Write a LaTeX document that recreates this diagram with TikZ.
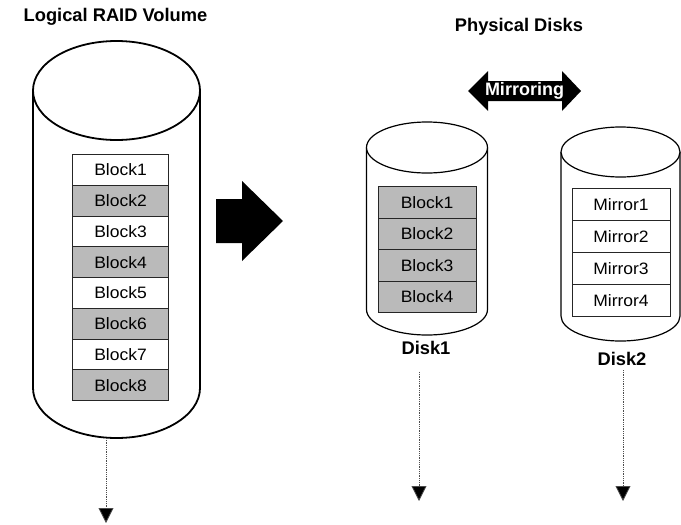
\documentclass[tikz,border=0pt]{standalone}
\usepackage{fontspec}
\setmainfont{Liberation Sans}
\newfontfamily\blkfont{Liberation Sans}[FakeStretch=1.06]
\usetikzlibrary{arrows.meta}
\begin{document}
\begin{tikzpicture}[x=1pt,y=1pt,
  bigcyl/.style={draw=black,fill=white,line width=1.8pt},
  smallcyl/.style={draw=black,fill=white,line width=1.2pt},
  blk/.style={draw=black!85,line width=1pt,inner sep=0pt,anchor=north,font=\blkfont\fontsize{16.5}{18}\selectfont},
  wht/.style={blk,fill=white},
  gry/.style={blk,fill=black!27},
  title/.style={font=\fontsize{18.3}{20}\selectfont\bfseries,inner sep=0pt},
  flow/.style={densely dotted,line width=0.8pt,draw=black!70,-{Triangle[width=15pt,length=15pt,fill=black]}},
  bigarrow/.style={fill=black,draw=none}
]
\useasboundingbox (0,0) rectangle (681,-525);

% titles
\node[title] (t1) at (115.5,-17) {Logical RAID Volume};
\node[title] (t2) at (519,-27) {Physical Disks};

% logical volume cylinder
\draw[bigcyl] (33,-90.5) -- (33,-388) arc[start angle=180,end angle=360,x radius=83.5,y radius=50] -- (200,-90.5);
\draw[bigcyl] (116.5,-90.5) ellipse[x radius=83.5,y radius=49.5];
\foreach \i/\s in {1/wht,2/gry,3/wht,4/gry,5/wht,6/gry,7/wht,8/gry}
  \node[\s,minimum width=96pt,minimum height=30.75pt] (L\i) at (120.5,{-154-30.75*(\i-1)}) {Block\i};

% big right arrow
\fill[bigarrow] (216,-199) -- (242,-199) -- (242,-181) -- (283,-221) -- (242,-261) -- (242,-243) -- (216,-243) -- cycle;

% mirroring arrow
\fill[bigarrow] (468,-91) -- (488,-71) -- (488,-81) -- (562,-81) -- (562,-71) -- (581,-91) -- (562,-111) -- (562,-101) -- (488,-101) -- (488,-111) -- cycle;
\node[font=\fontsize{18}{20}\selectfont\bfseries,text=white,inner sep=0pt] (mir) at (524.5,-91) {Mirroring};

% disk 1
\draw[smallcyl] (366.5,-147.5) -- (366.5,-309.5) arc[start angle=180,end angle=360,x radius=60.5,y radius=25.5] -- (487.5,-147.5);
\draw[smallcyl] (427,-147.5) ellipse[x radius=60.5,y radius=25.5];
\foreach \i in {1,...,4}
  \node[gry,minimum width=98pt,minimum height=31.5pt] (D\i) at (427,{-186-31.5*(\i-1)}) {Block\i};
\node[title] (d1) at (426,-348) {Disk1};

% disk 2
\draw[smallcyl] (561,-152) -- (561,-316) arc[start angle=180,end angle=360,x radius=59.5,y radius=25] -- (680,-152);
\draw[smallcyl] (620.5,-152) ellipse[x radius=59.5,y radius=25];
\foreach \i in {1,...,4}
  \node[wht,minimum width=98pt,minimum height=32pt] (M\i) at (621,{-188-32*(\i-1)}) {Mirror\i};
\node[title] (d2) at (622,-359) {Disk2};

% dotted arrows
\coordinate (vs) at (106,-438);
\coordinate (ve) at (106,-523);
\coordinate (as) at (419,-372);
\coordinate (ae) at (419,-501);
\coordinate (bs) at (623,-370);
\coordinate (be) at (623,-501);
\draw[flow] (vs) -- (ve);
\draw[flow] (as) -- (ae);
\draw[flow] (bs) -- (be);
\end{tikzpicture}
\end{document}
